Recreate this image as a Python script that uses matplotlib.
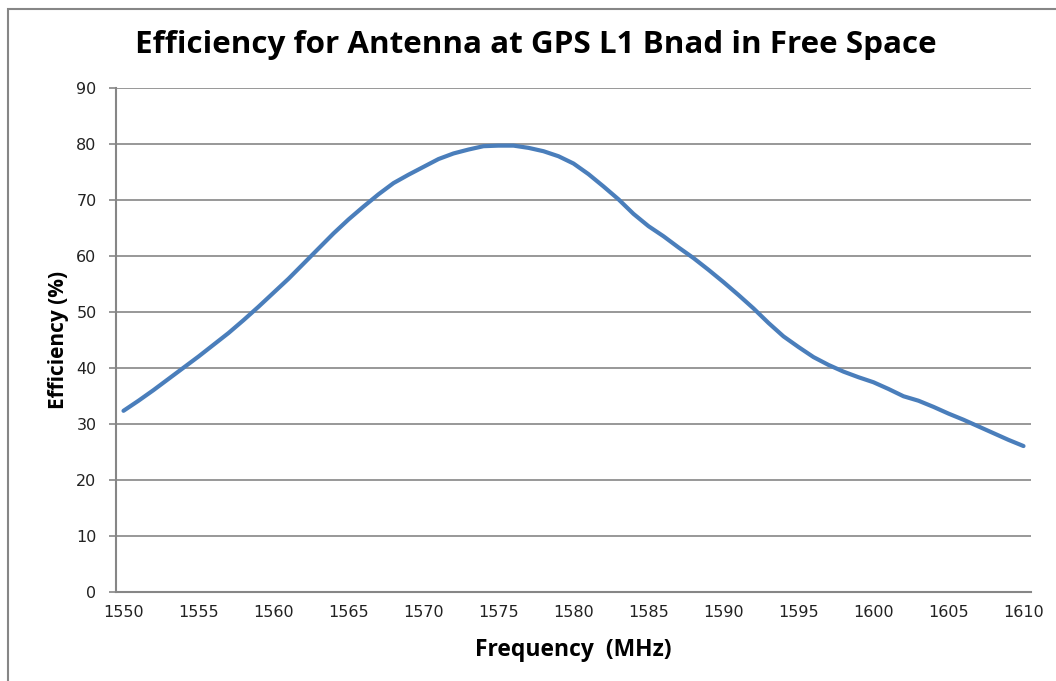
import numpy as np
import matplotlib
matplotlib.use('Agg')
import matplotlib.pyplot as plt
from matplotlib.patches import Rectangle

# frequency (MHz) and efficiency (%)
freq = np.arange(1550, 1611)
eff = [32.3, 34.1, 36.0, 38.0, 40.0, 42.0, 44.1, 46.2, 48.5, 50.9,
       53.4, 55.9, 58.6, 61.3, 64.0, 66.5, 68.8, 71.0, 73.0, 74.5,
       75.9, 77.3, 78.3, 79.0, 79.6, 79.7, 79.7, 79.3, 78.7, 77.8,
       76.5, 74.6, 72.4, 70.1, 67.5, 65.3, 63.5, 61.5, 59.6, 57.5,
       55.3, 53.0, 50.6, 48.0, 45.6, 43.7, 41.9, 40.5, 39.3, 38.3,
       37.4, 36.2, 34.9, 34.1, 33.0, 31.8, 30.7, 29.5, 28.3, 27.1,
       26.0]
xticks = np.arange(1550, 1611, 5)
yticks = np.arange(0, 91, 10)

W, H = 1056, 681
plt.rcParams['font.family'] = 'DejaVu Sans'
fig = plt.figure(figsize=(W / 100, H / 100), dpi=100)
grey = '#868686'

# outer chart border (runs off the right and bottom of the image)
fig.patches.append(Rectangle((8 / W, -0.1), 1.2, 1.1 - 9 / H,
                             transform=fig.transFigure, fill=False,
                             edgecolor=grey, linewidth=1.5))

ax = fig.add_axes([116 / W, 1 - 591.5 / H, (1031 - 116) / W, (591.5 - 88) / H])
ax.plot(freq, eff, color='#4A7EBB', linewidth=3.0, solid_capstyle='round')

ax.set_xlim(1549.5, 1610.5)
ax.set_ylim(0, 90)
ax.set_xticks(xticks)
ax.set_yticks(yticks)
ax.yaxis.grid(True, color=grey, linewidth=1.2)
ax.set_axisbelow(True)
for s in ['top', 'right']:
    ax.spines[s].set_visible(False)
for s in ['left', 'bottom']:
    ax.spines[s].set_color(grey)
    ax.spines[s].set_linewidth(1.5)
ax.tick_params(axis='y', length=5, width=1.2, color=grey, pad=9,
               labelsize=11.5, labelcolor='#222222')
ax.tick_params(axis='x', length=0, pad=10, labelsize=11.5, labelcolor='#222222')

ax.set_xlabel('Frequency  (MHz)', fontsize=16.5, fontweight='bold',
              family='Open Sans', labelpad=13)
ax.set_ylabel('Efficiency (%)', fontsize=15, fontweight='bold',
              family='Open Sans', labelpad=5)
fig.text(536 / W, 1 - 45 / H, 'Efficiency for Antenna at GPS L1 Bnad in Free Space',
         ha='center', va='center', fontsize=22.6, fontweight='bold',
         family='Open Sans')

fig.savefig('out.png', dpi=100)
